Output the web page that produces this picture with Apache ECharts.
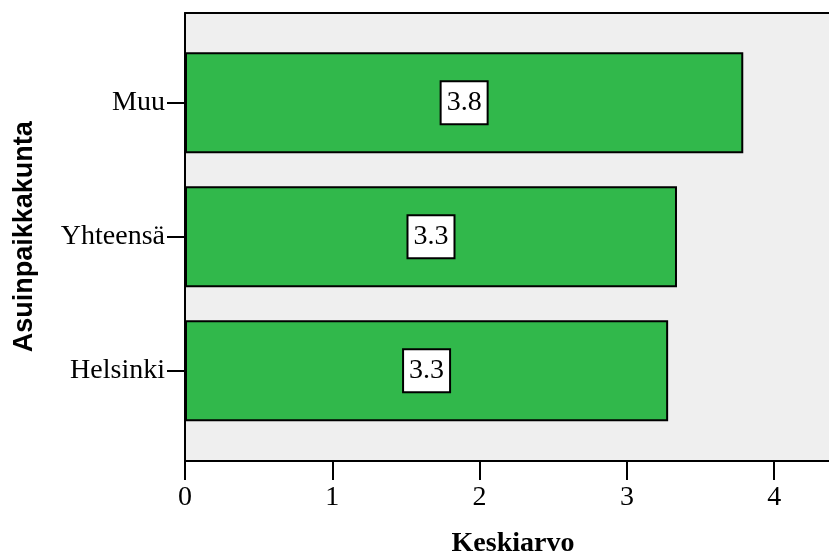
<!DOCTYPE html>
<html>
<head>
<meta charset="utf-8">
<style>
  html, body { margin: 0; padding: 0; background: #ffffff; }
  #chart { width: 829px; height: 557px; }
</style>
<script src="https://cdn.jsdelivr.net/npm/echarts@6/dist/echarts.min.js"></script>
</head>
<body>
<div id="chart"></div>
<script>
// Mean score by place of residence
const categories = ['Helsinki', 'Yhteensä', 'Muu'];
const means = [3.28, 3.34, 3.79];
const valueLabels = ['3.3', '3.3', '3.8'];
const xTicks = [0, 1, 2, 3, 4];

const serif = '"Liberation Serif", "DejaVu Serif", serif';
const sans = '"Liberation Sans", Arial, sans-serif';
const xMax = 4.372;

const chart = echarts.init(document.getElementById('chart'), null, { renderer: 'canvas' });

chart.setOption({
  backgroundColor: '#ffffff',
  animation: false,
  grid: [
    // plot frame with grey background
    { left: 185, top: 13, width: 644, height: 448, show: true,
      backgroundColor: '#efefef', borderWidth: 0,
      containLabel: false, outerBoundsMode: 'none' },
    // bar band area
    { left: 185, top: 35.7, width: 644, height: 402,
      containLabel: false, outerBoundsMode: 'none' }
  ],
  xAxis: [
    {
      gridIndex: 0, type: 'value', min: 0, max: xMax,
      axisLine: { show: true, lineStyle: { color: '#000', width: 2 } },
      axisTick: { show: true, length: 19, inside: false, customValues: xTicks,
        lineStyle: { color: '#000', width: 2 } },
      axisLabel: {
        color: '#000', fontFamily: serif, fontSize: 28, margin: 23,
        customValues: xTicks
      },
      splitLine: { show: false }
    },
    {
      gridIndex: 0, type: 'value', position: 'top', min: 0, max: xMax,
      axisLine: { show: true, lineStyle: { color: '#000', width: 2 } },
      axisTick: { show: false }, axisLabel: { show: false }, splitLine: { show: false }
    },
    {
      gridIndex: 1, type: 'value', min: 0, max: xMax, show: false
    }
  ],
  yAxis: [
    {
      gridIndex: 0, type: 'value', min: 0, max: 1,
      axisLine: { show: true, lineStyle: { color: '#000', width: 2 } },
      axisTick: { show: false }, axisLabel: { show: false }, splitLine: { show: false }
    },
    {
      gridIndex: 1, type: 'category', data: categories,
      axisLine: { show: false },
      axisTick: { show: true, length: 18, alignWithLabel: true, lineStyle: { color: '#000', width: 2 } },
      axisLabel: { color: '#000', fontFamily: serif, fontSize: 28, margin: 20 },
      name: 'Asuinpaikkakunta', nameLocation: 'middle', nameGap: 147, nameRotate: 90,
      nameTextStyle: { color: '#000', fontFamily: sans, fontWeight: 'bold', fontSize: 27 }
    }
  ],
  series: [
    {
      type: 'bar',
      xAxisIndex: 2, yAxisIndex: 1,
      data: means,
      barWidth: 101,
      itemStyle: { color: '#31b84b', borderColor: '#000', borderWidth: 2 },
      label: {
        show: true, position: 'inside',
        formatter: p => valueLabels[p.dataIndex],
        color: '#000', fontFamily: serif, fontSize: 28, lineHeight: 30,
        backgroundColor: '#ffffff', borderColor: '#000', borderWidth: 2,
        padding: [7, 5, 4, 5]
      }
    }
  ],
  graphic: [
    {
      type: 'text', x: 513, y: 530,
      style: { text: 'Keskiarvo', fill: '#000', fontFamily: serif, fontWeight: 'bold',
        fontSize: 28, align: 'center', verticalAlign: 'top' }
    }
  ]
});
</script>
</body>
</html>
